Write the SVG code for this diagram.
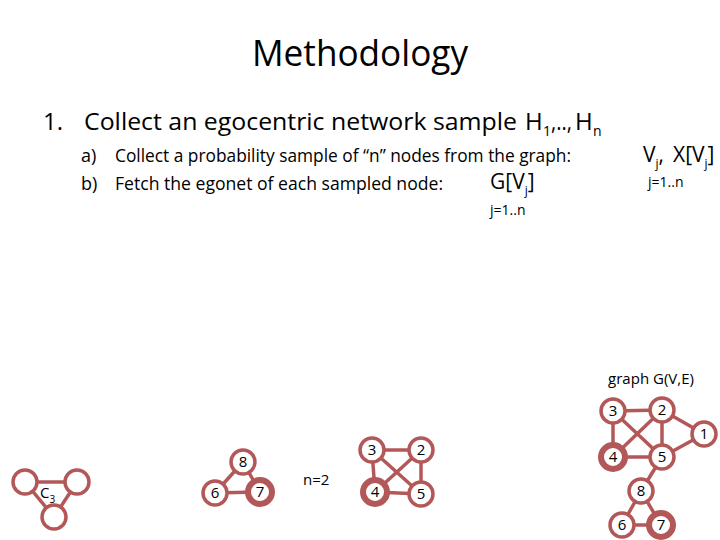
<svg xmlns="http://www.w3.org/2000/svg" width="720" height="540" viewBox="0 0 720 540">
<style>
.t{font-family:"Open Sans","Liberation Sans",sans-serif;fill:#000}
.e{stroke:#b35858;stroke-width:3.5;fill:none}
.n{stroke:#b35858;stroke-width:3.5;fill:#fff}
.nb{stroke:#b35858;stroke-width:6;fill:#fff}
.l{font-family:"Open Sans","Liberation Sans",sans-serif;font-size:15px;text-anchor:middle;fill:#000}
</style>
<rect width="720" height="540" fill="#fff"/>
<text class="t" x="360" y="66" font-size="36" text-anchor="middle" textLength="216" lengthAdjust="spacingAndGlyphs">Methodology</text>
<text class="t" x="43" y="130" font-size="24">1.</text>
<text class="t" y="130" font-size="24"><tspan x="84" textLength="433" lengthAdjust="spacingAndGlyphs">Collect an egocentric network sample</tspan><tspan x="525">H</tspan><tspan x="543" dy="6" font-size="14">1</tspan><tspan x="551" dy="-6" textLength="21" lengthAdjust="spacingAndGlyphs">,..,</tspan><tspan x="575">H</tspan><tspan x="593" dy="6" font-size="14">n</tspan></text>
<text class="t" x="81" y="162" font-size="18">a)</text>
<text class="t" x="115" y="162" font-size="18" textLength="456" lengthAdjust="spacingAndGlyphs">Collect a probability sample of “n” nodes from the graph:</text>
<text class="t" x="81" y="190" font-size="18">b)</text>
<text class="t" x="115" y="190" font-size="18" textLength="328" lengthAdjust="spacingAndGlyphs">Fetch the egonet of each sampled node:</text>
<text class="t" x="490" y="189" font-size="21">G[V<tspan dy="6" font-size="12">j</tspan><tspan dy="-6">]</tspan></text>
<text class="t" x="490" y="215" font-size="14">j=1..n</text>
<text class="t" y="162" font-size="21"><tspan x="643">V</tspan><tspan dy="6" font-size="12">j</tspan><tspan dy="-6">,</tspan><tspan x="673">X[V</tspan><tspan dy="6" font-size="12">j</tspan><tspan dy="-6">]</tspan></text>
<text class="t" x="648" y="187" font-size="14">j=1..n</text>
<text class="t" x="651" y="384" font-size="15" text-anchor="middle">graph G(V,E)</text>
<text class="t" x="303" y="485" font-size="15">n=2</text>
<g id="connectors">
<line class="e" x1="25" y1="482" x2="77" y2="482"/>
<line class="e" x1="25" y1="482" x2="54" y2="517"/>
<line class="e" x1="77" y1="482" x2="54" y2="517"/>
<line class="e" x1="243" y1="462" x2="215" y2="493"/>
<line class="e" x1="243" y1="462" x2="260" y2="492"/>
<line class="e" x1="215" y1="493" x2="260" y2="492"/>
<line class="e" x1="372" y1="450" x2="421" y2="450"/>
<line class="e" x1="372" y1="450" x2="375" y2="492"/>
<line class="e" x1="372" y1="450" x2="421" y2="494"/>
<line class="e" x1="421" y1="450" x2="375" y2="492"/>
<line class="e" x1="421" y1="450" x2="421" y2="494"/>
<line class="e" x1="375" y1="492" x2="421" y2="494"/>
<line class="e" x1="613" y1="411" x2="662" y2="410"/>
<line class="e" x1="613" y1="411" x2="613" y2="457"/>
<line class="e" x1="613" y1="411" x2="662" y2="457"/>
<line class="e" x1="662" y1="410" x2="613" y2="457"/>
<line class="e" x1="662" y1="410" x2="662" y2="457"/>
<line class="e" x1="662" y1="410" x2="704" y2="434"/>
<line class="e" x1="613" y1="457" x2="662" y2="457"/>
<line class="e" x1="704" y1="434" x2="662" y2="457"/>
<line class="e" x1="662" y1="457" x2="641" y2="491"/>
<line class="e" x1="641" y1="491" x2="622" y2="525"/>
<line class="e" x1="641" y1="491" x2="661" y2="525"/>
<line class="e" x1="622" y1="525" x2="661" y2="525"/>
</g>
<g id="c3a"><circle class="n" cx="25" cy="482" r="12"/></g>
<g id="c3b"><circle class="n" cx="77" cy="482" r="12"/></g>
<g id="c3c"><circle class="n" cx="54" cy="517" r="12"/></g>
<text class="t" x="40" y="498" font-size="15">C<tspan dy="5" font-size="10">3</tspan></text>
<g id="e8"><circle class="n" cx="243" cy="462" r="12"/><text class="l" x="243" y="467">8</text></g>
<g id="e6"><circle class="n" cx="215" cy="493" r="12"/><text class="l" x="215" y="498">6</text></g>
<g id="e7"><circle class="nb" cx="260" cy="492" r="12"/><text class="l" x="260" y="497">7</text></g>
<g id="s3"><circle class="n" cx="372" cy="450" r="12"/><text class="l" x="372" y="455">3</text></g>
<g id="s2"><circle class="n" cx="421" cy="450" r="12"/><text class="l" x="421" y="455">2</text></g>
<g id="s4"><circle class="nb" cx="375" cy="492" r="12"/><text class="l" x="375" y="497">4</text></g>
<g id="s5"><circle class="n" cx="421" cy="494" r="12"/><text class="l" x="421" y="499">5</text></g>
<g id="g3"><circle class="n" cx="613" cy="411" r="12"/><text class="l" x="613" y="416">3</text></g>
<g id="g2"><circle class="n" cx="662" cy="410" r="12"/><text class="l" x="662" y="415">2</text></g>
<g id="g1"><circle class="n" cx="704" cy="434" r="12"/><text class="l" x="704" y="439">1</text></g>
<g id="g4"><circle class="nb" cx="613" cy="457" r="12"/><text class="l" x="613" y="462">4</text></g>
<g id="g5"><circle class="n" cx="662" cy="457" r="12"/><text class="l" x="662" y="462">5</text></g>
<g id="g8"><circle class="n" cx="641" cy="491" r="12"/><text class="l" x="641" y="496">8</text></g>
<g id="g6"><circle class="n" cx="622" cy="525" r="12"/><text class="l" x="622" y="530">6</text></g>
<g id="g7"><circle class="nb" cx="661" cy="525" r="12"/><text class="l" x="661" y="530">7</text></g>
</svg>
